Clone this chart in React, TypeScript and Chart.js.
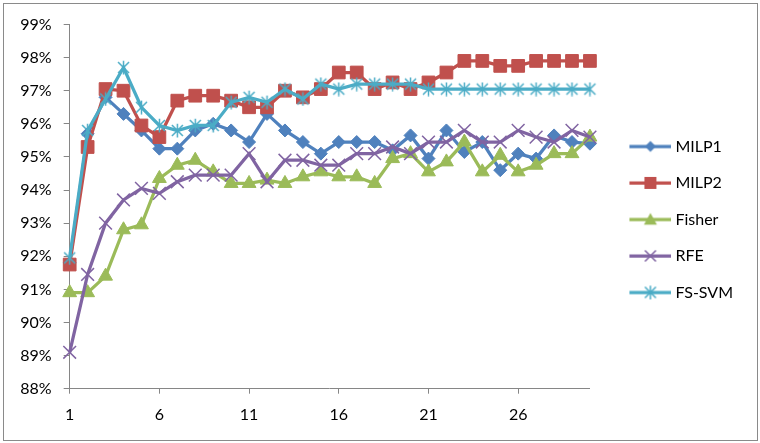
import { useEffect, useRef } from "react";
import { Chart, registerables } from "chart.js";

Chart.register(...registerables);

const categories = ["1","2","3","4","5","6","7","8","9","10","11","12","13","14","15","16","17","18","19","20","21","22","23","24","25","26","27","28","29","30"];

const milp1 = [91.8, 95.7, 96.8, 96.3, 95.8, 95.25, 95.25, 95.8, 96.0, 95.8, 95.45, 96.3, 95.8, 95.45, 95.1, 95.45, 95.45, 95.45, 95.2, 95.65, 94.95, 95.8, 95.15, 95.45, 94.6, 95.1, 94.95, 95.65, 95.45, 95.4];
const milp2 = [91.75, 95.3, 97.05, 97.0, 95.95, 95.6, 96.7, 96.85, 96.85, 96.7, 96.5, 96.5, 97.0, 96.8, 97.05, 97.55, 97.55, 97.05, 97.25, 97.05, 97.25, 97.55, 97.9, 97.9, 97.75, 97.75, 97.9, 97.9, 97.9, 97.9];
const fisher = [90.9, 90.9, 91.4, 92.8, 92.95, 94.35, 94.75, 94.9, 94.55, 94.2, 94.2, 94.3, 94.2, 94.4, 94.55, 94.4, 94.4, 94.2, 94.95, 95.1, 94.55, 94.85, 95.45, 94.55, 95.05, 94.55, 94.75, 95.1, 95.1, 95.6];
const rfe = [89.1, 91.45, 93.0, 93.7, 94.05, 93.9, 94.25, 94.45, 94.45, 94.45, 95.1, 94.25, 94.9, 94.9, 94.75, 94.75, 95.1, 95.1, 95.3, 95.1, 95.45, 95.45, 95.8, 95.45, 95.45, 95.8, 95.6, 95.45, 95.8, 95.6];
const fssvm = [91.95, 95.8, 96.75, 97.7, 96.5, 95.95, 95.8, 95.95, 95.95, 96.65, 96.8, 96.65, 97.05, 96.75, 97.2, 97.05, 97.2, 97.2, 97.2, 97.2, 97.05, 97.05, 97.05, 97.05, 97.05, 97.05, 97.05, 97.05, 97.05, 97.05];

const seriesNames = ["MILP1", "MILP2", "Fisher", "RFE", "FS-SVM"];
const seriesColors = ["#4F81BD", "#C0504D", "#9BBB59", "#8064A2", "#4BACC6"];

const yMin = 88;
const yMax = 99;
const xTickEvery = 5;

const AXIS = "#868686";
const FONT = "Lato, 'Open Sans', sans-serif";

type Drawer = (g: CanvasRenderingContext2D, x: number, y: number, color: string, s: number) => void;

const drawDiamond: Drawer = (g, x, y, color, s) => {
  g.fillStyle = color;
  g.beginPath();
  g.moveTo(x, y - s); g.lineTo(x + s, y); g.lineTo(x, y + s); g.lineTo(x - s, y);
  g.closePath(); g.fill();
};
const drawSquare: Drawer = (g, x, y, color, s) => {
  g.fillStyle = color;
  g.fillRect(x - s, y - s, 2 * s, 2 * s);
};
const drawTriangle: Drawer = (g, x, y, color, s) => {
  g.fillStyle = color;
  g.beginPath();
  g.moveTo(x, y - s); g.lineTo(x + s, y + s * 0.8); g.lineTo(x - s, y + s * 0.8);
  g.closePath(); g.fill();
};
const drawX: Drawer = (g, x, y, color, s) => {
  g.strokeStyle = color; g.lineWidth = 1.5;
  g.beginPath();
  g.moveTo(x - s, y - s); g.lineTo(x + s, y + s);
  g.moveTo(x + s, y - s); g.lineTo(x - s, y + s);
  g.stroke();
};
const drawStar: Drawer = (g, x, y, color, s) => {
  g.strokeStyle = color; g.lineWidth = 1.5;
  g.beginPath();
  g.moveTo(x - s, y - s); g.lineTo(x + s, y + s);
  g.moveTo(x + s, y - s); g.lineTo(x - s, y + s);
  g.moveTo(x, y - s * 1.25); g.lineTo(x, y + s * 1.25);
  g.stroke();
};

const markerDrawers: Drawer[] = [drawDiamond, drawSquare, drawTriangle, drawX, drawStar];
const legendMarkerSize = [5.5, 6, 6.5, 5.5, 5.5];

function markerImage(draw: Drawer, color: string, s: number) {
  const c = document.createElement("canvas");
  const n = Math.ceil(s * 2 + 4);
  c.width = n; c.height = n;
  const g = c.getContext("2d")!;
  draw(g, n / 2, n / 2, color, s);
  return c;
}

function legendImage(draw: Drawer, color: string, s: number) {
  const c = document.createElement("canvas");
  c.width = 65; c.height = 18;
  const g = c.getContext("2d")!;
  g.strokeStyle = color; g.lineWidth = 3.25;
  g.beginPath(); g.moveTo(23, 9); g.lineTo(65, 9); g.stroke();
  draw(g, 44, 9, color, s);
  return c;
}

export default function App() {
  const ref = useRef<HTMLCanvasElement>(null);

  useEffect(() => {
    const canvas = ref.current;
    if (!canvas) return;
    const values = [milp1, milp2, fisher, rfe, fssvm];
    const legendImgs = seriesColors.map((c, i) => legendImage(markerDrawers[i], c, legendMarkerSize[i]));
    const starImg = markerImage(drawStar, seriesColors[4], 5.5);

    const pointStyles: any[] = ["rectRot", "rect", "triangle", "crossRot", starImg];
    const pointRadii = [6.5, 9, 8, 9, 7];

    const datasets = values.map((data, i) => ({
      label: seriesNames[i],
      data,
      borderColor: seriesColors[i],
      backgroundColor: seriesColors[i],
      borderWidth: 3.25,
      pointStyle: pointStyles[i],
      pointRadius: pointRadii[i],
      pointBorderWidth: i >= 3 ? 1.5 : 1,
      pointBackgroundColor: seriesColors[i],
      pointBorderColor: seriesColors[i],
      tension: 0,
      clip: false as any,
      order: 5 - i,
    }));

    const chart = new Chart(canvas, {
      type: "line",
      data: { labels: categories, datasets },
      options: {
        responsive: false,
        animation: false,
        events: [],
        layout: { padding: { left: 8.3, top: 24.5, right: 17, bottom: 6.1 } },
        plugins: {
          tooltip: { enabled: false },
          title: { display: false },
          legend: {
            position: "right",
            align: "start",
            title: { display: true, text: "", font: { size: 12 }, padding: { top: 79, bottom: 0 } },
            labels: {
              usePointStyle: true,
              pointStyleWidth: 57,
              padding: 20.5,
              color: "#000",
              font: { size: 16, family: FONT },
              generateLabels: (ch: any) =>
                ch.data.datasets.map((ds: any, i: number) => ({
                  text: ds.label,
                  pointStyle: legendImgs[i],
                  datasetIndex: i,
                  hidden: false,
                  lineWidth: 0,
                  fillStyle: "transparent",
                  strokeStyle: "transparent",
                  fontColor: "#000",
                })),
            },
          },
        },
        scales: {
          x: {
            type: "category",
            offset: false,
            border: { color: AXIS, width: 1 },
            grid: {
              drawOnChartArea: false,
              tickLength: 5,
              tickColor: (ctx: any) => (ctx.index % xTickEvery === 0 ? AXIS : "rgba(0,0,0,0)"),
            },
            ticks: {
              autoSkip: false,
              maxRotation: 0,
              padding: 12,
              color: "#000",
              font: { size: 16, family: FONT },
              callback: (_v: any, i: number) => (i % xTickEvery === 0 ? categories[i] : ""),
            },
          },
          y: {
            min: yMin,
            max: yMax,
            border: { color: AXIS, width: 1 },
            grid: { drawOnChartArea: false, tickLength: 6, color: AXIS },
            ticks: {
              stepSize: 1,
              padding: 12,
              color: "#000",
              font: { size: 16, family: FONT },
              callback: (v: any) => `${v}%`,
            },
          },
        },
      },
    });
    return () => chart.destroy();
  }, []);

  return (
    <div style={{ position: "fixed", left: 0, top: 0, width: 760, height: 443, background: "#fff" }}>
      <canvas ref={ref} width={760} height={443} style={{ position: "absolute", left: 0, top: 0, width: 760, height: 443 }} />
      <div
        style={{
          position: "absolute",
          left: 3,
          top: 3,
          width: 755,
          height: 438,
          border: "1px solid #8a8a8a",
          boxSizing: "border-box",
          pointerEvents: "none",
        }}
      />
    </div>
  );
}
